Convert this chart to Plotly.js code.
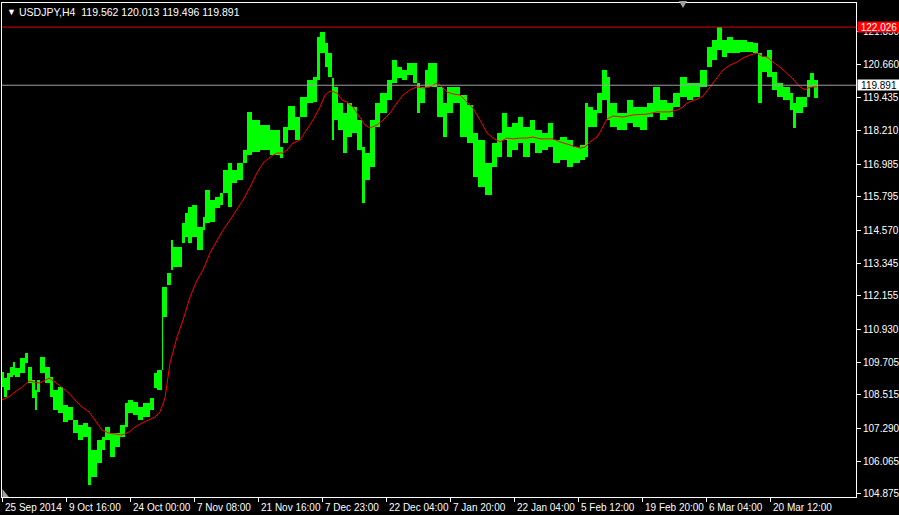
<!DOCTYPE html>
<html><head><meta charset="utf-8">
<script src="https://cdn.plot.ly/plotly-3.0.1.min.js"></script>
<style>html,body{margin:0;padding:0;background:#000;}#chart{width:899px;height:515px;}</style>
</head><body><div id="chart"></div>
<script>
// Bar-index position of each sampled block of H4 bars, with block high / low
const segStart=[0,2,5,8,11,13,18,23,26,30,33,35,38,43,48,51,56,61,66,71,76,81,86,89,95,100,103,108,113,118,123,126,131,136,141,148,152,155,160,161,165,169,171,180,183,186,190,195,201,203,208,213,218,221,226,230,235,241,245,250,258,268,278,281,286,293,298,305,311,315,318,323,326,330,332,336,341,345,350,355,360,363,368,373,378,385,390,395,400,405,411,415,418,423,426,435,441,445,451,458,465,471,476,483,490,495,500,505,510,516,521,528,533,540,546,551,558,565,571,578,583,586,591,595,600,605,608,615,625,631,638,645,651,658,665,671,678,685,691,698,705,710,715,720,725,731,738,745,751,756,760,765,770,775,781,788,791,794,801,805,808,812];
const segEnd=816;
const segHigh=[109.36,109.13,109.32,109.54,109.72,109.50,109.87,110.05,109.54,109.06,108.69,109.06,109.91,109.54,109.17,108.69,108.80,108.14,108.07,107.59,107.41,107.48,107.33,106.49,106.86,106.97,107.33,107.11,107.11,107.41,108.22,108.33,108.25,108.07,108.22,108.40,109.32,109.43,112.48,112.48,112.99,114.20,113.95,114.83,115.20,115.42,115.49,114.68,115.05,116.04,115.67,115.78,115.93,116.78,117.03,116.78,117.03,117.51,118.91,118.61,118.43,118.25,117.62,118.36,119.13,118.72,119.46,120.08,120.19,121.66,121.85,121.44,121.07,120.16,119.83,119.24,118.87,119.24,119.09,118.61,117.62,117.40,118.61,119.24,119.61,120.08,120.82,120.56,120.45,120.71,120.71,119.97,119.83,120.45,120.71,119.83,119.24,119.83,119.83,119.53,119.16,118.14,117.88,117.03,117.77,118.14,118.87,118.36,118.50,118.72,118.36,118.61,118.25,118.14,118.50,117.88,117.99,117.88,117.62,117.70,119.24,119.09,118.98,119.61,120.45,120.19,119.24,118.87,119.35,119.09,119.09,119.24,119.83,119.35,119.24,119.61,120.19,119.97,119.97,120.45,121.30,121.55,122.03,121.55,121.66,121.55,121.55,121.48,121.44,121.07,120.93,121.19,120.38,119.97,119.83,119.61,119.24,119.46,119.46,120.08,120.34,120.08];
const segLow=[108.80,108.44,108.69,109.17,109.24,109.17,109.32,109.69,108.95,108.40,107.96,108.62,109.32,108.95,108.44,107.96,107.85,107.52,107.59,107.11,106.86,106.97,105.20,105.50,106.01,106.49,106.86,106.23,106.60,106.97,107.33,107.85,107.78,107.59,107.70,107.96,108.77,108.69,109.43,111.38,112.55,113.10,113.21,114.09,114.32,114.09,114.32,113.84,114.57,114.83,114.87,115.38,115.49,115.93,115.42,116.30,116.41,117.03,117.33,117.44,117.51,117.33,117.22,117.77,118.25,117.88,118.72,119.24,119.27,120.08,121.07,120.56,120.19,117.88,118.61,118.25,117.40,117.99,118.14,117.51,115.56,116.41,116.89,118.36,118.87,119.35,119.97,120.16,120.08,120.27,119.97,118.87,119.24,119.83,119.83,118.72,117.99,118.87,119.24,117.99,117.77,116.52,116.15,115.86,116.89,117.25,117.88,117.25,117.51,117.77,117.25,117.77,117.40,117.51,117.62,117.03,117.14,116.89,117.03,117.14,117.25,118.36,118.36,118.87,119.35,118.61,118.36,118.25,118.50,118.36,118.25,118.72,118.87,118.61,118.72,119.09,119.46,119.35,119.46,119.83,120.56,120.82,121.19,120.93,121.07,121.07,121.11,121.11,121.07,119.24,120.38,120.19,119.72,119.46,119.35,118.98,118.32,118.87,119.09,119.46,119.83,119.42];
// Moving average (red)
const maIdx=[0,7,13,20,27,33,37,40,47,53,60,67,73,80,87,93,100,107,113,120,127,133,140,147,153,158,163,168,175,181,188,195,201,208,215,221,228,235,241,248,255,261,268,275,281,285,291,298,305,311,318,323,328,335,340,345,351,358,363,368,375,381,388,395,401,408,415,421,428,435,438,445,451,458,465,471,478,485,491,498,505,511,518,525,531,538,545,551,558,565,571,578,583,588,595,598,605,611,621,631,645,655,668,675,681,685,695,701,708,715,721,728,735,741,748,755,760,765,771,778,785,791,798,803,806,811,815];
const maVal=[108.33,108.44,108.62,108.80,109.02,108.99,108.95,108.99,109.13,108.99,108.80,108.58,108.33,108.07,107.89,107.59,107.22,107.11,107.08,107.04,107.15,107.33,107.48,107.59,107.70,107.89,108.40,109.69,110.64,111.26,112.11,112.73,113.10,113.73,114.20,114.57,114.94,115.31,115.67,116.15,116.67,117.03,117.25,117.40,117.40,117.51,117.77,117.88,118.25,118.61,119.09,119.53,119.68,119.61,119.35,119.27,119.09,118.72,118.43,118.32,118.43,118.61,118.87,119.24,119.53,119.72,119.83,119.79,119.83,119.97,119.90,119.64,119.57,119.53,119.27,119.05,118.61,118.14,117.95,117.81,117.95,117.92,117.95,117.95,117.99,117.92,117.92,117.92,117.81,117.73,117.66,117.58,117.62,117.81,117.99,118.17,118.65,118.76,118.72,118.80,118.83,118.91,118.91,118.98,119.09,119.24,119.38,119.49,119.83,120.16,120.45,120.63,120.74,120.89,121.00,121.07,120.96,120.93,120.74,120.56,120.34,120.12,119.83,119.72,119.79,119.83,119.83];
const xTickIdx=[0,64,128,192,256,320,384,448,512,576,640,704,768];
const xTickText=['25 Sep 2014','9 Oct 16:00','24 Oct 00:00','7 Nov 08:00','21 Nov 16:00','7 Dec 23:00','22 Dec 04:00','7 Jan 20:00','22 Jan 04:00','5 Feb 12:00','19 Feb 20:00','6 Mar 04:00','20 Mar 12:00'];
const yTickVals=[121.850,120.660,119.435,118.210,116.985,115.795,114.570,113.345,112.155,110.930,109.705,108.515,107.290,106.065,104.875];
const yTickText=['121.850','120.660','119.435','118.210','116.985','115.795','114.570','113.345','112.155','110.930','109.705','108.515','107.290','106.065','104.875'];
const symbolText='USDJPY,H4';
const ohlcLast=[119.562,120.013,119.496,119.891];
const bidLevel=119.891;
const askLevel=122.026;

const widths=segStart.map((s,i)=>((i<segStart.length-1)?segStart[i+1]:segEnd)-s);
const spans=segHigh.map((h,i)=>h-segLow[i]);
const FONT='Liberation Sans, Arial, sans-serif';

const traces=[
 {type:'bar',x:segStart,y:spans,base:segLow,width:widths,offset:0,
  marker:{color:'#00ff00',line:{width:0}},hoverinfo:'skip',showlegend:false},
 {type:'scatter',mode:'lines',x:maIdx,y:maVal,line:{color:'#ff0000',width:1},hoverinfo:'skip',showlegend:false}
];

const annotations=xTickIdx.map((v,i)=>({x:v,xref:'x',y:0,yref:'paper',yshift:-3,xshift:1,
  text:xTickText[i],showarrow:false,xanchor:'left',yanchor:'top',font:{family:FONT,size:10,color:'#ffffff'}}));
annotations.push({x:0.0035,xref:'paper',y:0.982,yref:'paper',xanchor:'left',yanchor:'middle',showarrow:false,
  text:'▼',font:{family:FONT,size:9,color:'#ffffff'}});
annotations.push({x:0.0175,xref:'paper',y:0.982,yref:'paper',xanchor:'left',yanchor:'middle',showarrow:false,
  text:symbolText+'  '+ohlcLast.map(v=>v.toFixed(3)).join(' '),font:{family:FONT,size:10.5,color:'#ffffff'}});
annotations.push({x:1,xref:'paper',y:askLevel,yref:'y',xanchor:'left',yanchor:'middle',xshift:1,showarrow:false,
  text:askLevel.toFixed(3),bgcolor:'#ff0000',width:42,height:10,borderpad:0,font:{family:FONT,size:10,color:'#ffffff'}});
annotations.push({x:1,xref:'paper',y:bidLevel,yref:'y',xanchor:'left',yanchor:'middle',xshift:1,showarrow:false,
  text:bidLevel.toFixed(3),bgcolor:'#ffffff',width:42,height:10,borderpad:0,font:{family:FONT,size:10,color:'#000000'}});

const shapes=[
 {type:'line',xref:'paper',x0:0,x1:1,yref:'y',y0:askLevel,y1:askLevel,line:{color:'#e00000',width:1}},
 {type:'line',xref:'paper',x0:0,x1:1,yref:'y',y0:bidLevel,y1:bidLevel,line:{color:'#a0a0a0',width:1}},
 {type:'path',xref:'paper',yref:'paper',path:'M 0.7927 1.004 L 0.8021 1.004 L 0.7974 0.990 Z',fillcolor:'#a0a0a0',line:{width:0}},
 {type:'path',xref:'paper',yref:'paper',path:'M 0.0005 0 L 0.0005 0.016 L 0.008 0 Z',fillcolor:'#a0a0a0',line:{width:0}}
];

const layout={
 width:899,height:515,
 margin:{l:2,r:43,t:3,b:18,pad:0},
 paper_bgcolor:'#000000',plot_bgcolor:'#000000',
 showlegend:false,
 font:{family:FONT,size:10,color:'#ffffff'},
 xaxis:{range:[0,854],showgrid:false,zeroline:false,showline:true,mirror:true,linecolor:'#ffffff',linewidth:1,
   tickmode:'array',tickvals:xTickIdx,ticktext:xTickIdx.map(()=>''),ticks:'outside',ticklen:4,tickcolor:'#ffffff',fixedrange:true},
 yaxis:{range:[104.762,122.912],side:'right',showgrid:false,zeroline:false,showline:true,mirror:true,linecolor:'#ffffff',linewidth:1,
   tickmode:'array',tickvals:yTickVals,ticktext:yTickText,ticks:'outside',ticklen:4,tickcolor:'#ffffff',
   tickfont:{family:FONT,size:10,color:'#ffffff'},fixedrange:true},
 annotations:annotations,shapes:shapes,bargap:0
};
Plotly.newPlot('chart',traces,layout,{displayModeBar:false,staticPlot:true});
</script></body></html>
